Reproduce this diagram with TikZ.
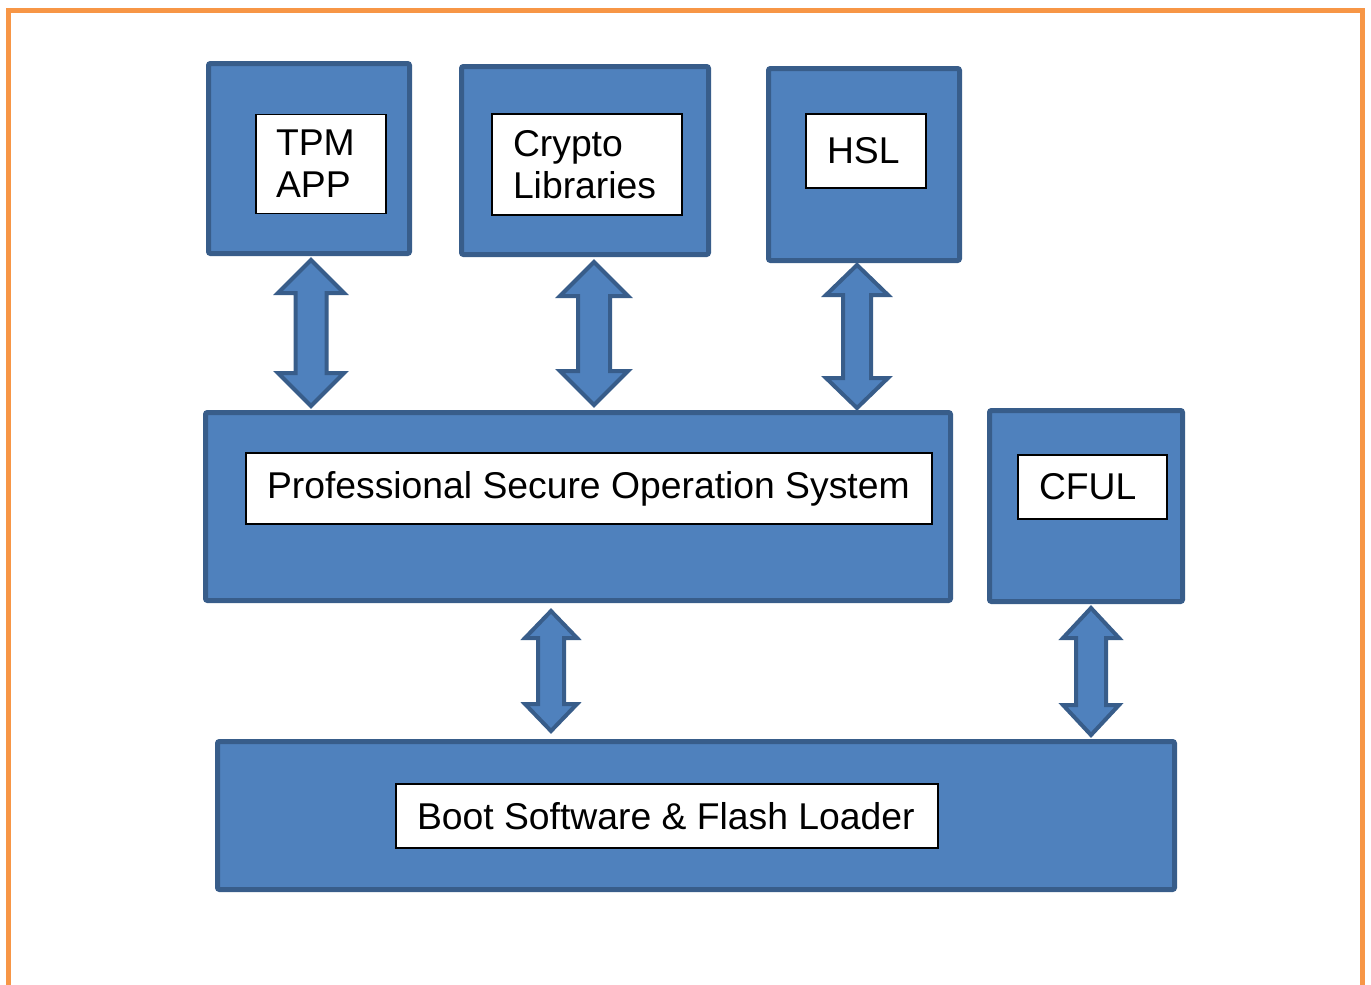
\documentclass[tikz,border=0pt]{standalone}
\usepackage{fontspec}
\setmainfont{Liberation Sans}
\usetikzlibrary{calc}
\definecolor{boxblue}{HTML}{4F81BD}
\definecolor{boxedge}{HTML}{385D8A}
\definecolor{frameorange}{HTML}{F79646}
\newcommand{\twoway}[7]{%
  \draw[dual] let \p1=(#2.south), \p2=(#3.north), \n1={\y1-#7pt}, \n2={\y2+#7pt} in
    (#1pt,\n1) -- (#1pt+#4pt,\n1-#6pt) -- (#1pt+#5pt,\n1-#6pt)
    -- (#1pt+#5pt,\n2+#6pt) -- (#1pt+#4pt,\n2+#6pt) -- (#1pt,\n2)
    -- (#1pt-#4pt,\n2+#6pt) -- (#1pt-#5pt,\n2+#6pt)
    -- (#1pt-#5pt,\n1-#6pt) -- (#1pt-#4pt,\n1-#6pt) -- cycle;}
\newcommand{\lefttext}[2]{\makebox[#1pt][l]{#2}}

\begin{document}
\begin{tikzpicture}[x=1pt,y=-1pt]
    \tikzstyle{block}=[draw=boxedge,fill=boxblue,line width=5pt,rounded corners=2pt,inner sep=0pt]
    \tikzstyle{textbox}=[draw=black,fill=white,line width=1.5pt,inner ysep=0pt,inner xsep=21pt,align=left,font=\fontsize{37.3pt}{42pt}\selectfont]
    \tikzstyle{dual}=[draw=boxedge,fill=boxblue,line width=4pt,line join=miter]
    \useasboundingbox (0,0) rectangle (1371,985);
    \draw[frameorange,line width=5pt] (8,1000) -- (8,10) -- (1362.5,10) -- (1362.5,1000);

    \node[block,minimum width=201,minimum height=190] (tpm) at (309,158.5) {};
    \node[block,minimum width=247,minimum height=188] (crypto) at (585,160.5) {};
    \node[block,minimum width=191,minimum height=192] (hsl) at (864,164.5) {};
    \node[block,minimum width=745,minimum height=188] (psos) at (578,506.5) {};
    \node[block,minimum width=193,minimum height=191] (cful) at (1086,506) {};
    \node[block,minimum width=957,minimum height=148] (boot) at (696,815.5) {};

    \node[textbox,text width=90pt,inner xsep=20pt,minimum height=99] (tpmtext) at (321,164) {TPM\\APP};
    \node[textbox,text width=148pt,minimum height=101] (cryptotext) at (587,164.5) {Crypto\\Libraries};
    \node[textbox,minimum height=74] (hsltext) at (866,151) {\lefttext{78}{HSL}};
    \node[textbox,minimum height=71] (psostext) at (589,488.5) {\lefttext{644}{Professional Secure Operation System}};
    \node[textbox,minimum height=64] (cfultext) at (1092.5,487) {\lefttext{107}{CFUL}};
    \node[textbox,minimum height=64] (boottext) at (667,816) {\lefttext{500}{Boot Software \& Flash Loader}};

    \twoway{311}{tpm}{psos}{33}{15.5}{33}{4}
    \twoway{594}{crypto}{psos}{34}{16}{34}{5}
    \twoway{857}{hsl}{psos}{31}{14}{30}{2}
    \twoway{551}{psos}{boot}{26}{13}{27}{8}
    \twoway{1091}{cful}{boot}{28}{15}{30}{4}
\end{tikzpicture}
\end{document}
